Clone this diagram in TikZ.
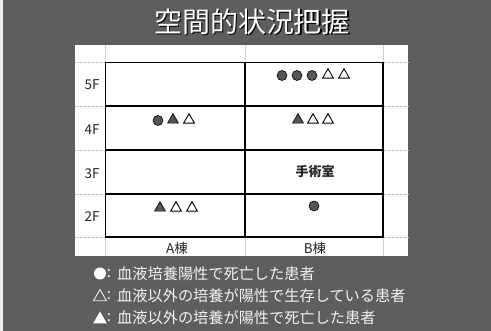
\documentclass[tikz,border=0pt]{standalone}
\usepackage{fontspec}
\setmainfont{Noto Sans CJK JP}
\usetikzlibrary{shapes.geometric}
\definecolor{bg}{HTML}{5E5E5E}
\definecolor{symgray}{HTML}{555555}
\tikzset{
  gridline/.style={draw=gray!55, densely dotted, line width=0.6pt},
  frame/.style={draw=black, line width=1.1pt},
  lbl/.style={font=\fontsize{13.5}{13.5}\selectfont, text=black!85, inner sep=0},
  dotsym/.style={circle, draw=black, fill=symgray, minimum size=10pt, inner sep=0, line width=0.6pt},
  trifill/.style={regular polygon, regular polygon sides=3, draw=black, fill=symgray, minimum size=12.5pt, inner sep=0, line width=0.7pt},
  triopen/.style={regular polygon, regular polygon sides=3, draw=black, fill=white, minimum size=12.5pt, inner sep=0, line width=0.9pt},
  ldot/.style={circle, fill=white, minimum size=12pt, inner sep=0},
  ltrifill/.style={regular polygon, regular polygon sides=3, fill=white, minimum size=16pt, inner sep=0},
  ltriopen/.style={regular polygon, regular polygon sides=3, draw=white!85!gray, line width=0.9pt, minimum size=15pt, inner sep=0},
  legtext/.style={font=\fontsize{15.2}{15.2}\selectfont, text=white!90!gray, anchor=west, inner sep=0},
  legcolon/.style={font=\fontsize{15.2}{15.2}\selectfont, text=white!90!gray, inner sep=0},
}
\begin{document}
\begin{tikzpicture}[x=1pt,y=-1pt]
\useasboundingbox (0,0) rectangle (491,331);
\fill[bg] (0,0) rectangle (491,331);
\fill[white!85!gray] (0,0) rectangle (3,331);
% title
\node[font=\fontsize{28}{28}\selectfont, text=black] (titlesh) at (253.2,23.2) {空間的状況把握};
\node[font=\fontsize{28}{28}\selectfont, text=white] (title) at (252,22) {空間的状況把握};
% white table area
\fill[white] (75,45) rectangle (408,256);
% dotted grid
\foreach \x in {105.7,245,383} \draw[gridline] (\x,45) -- (\x,256);
\foreach \y in {62.7,106,150,194,237} \draw[gridline] (75,\y) -- (408,\y);
% solid frame
\draw[frame] (105.7,62.7) rectangle (383,237);
\foreach \y in {106,150,194} \draw[frame] (105.7,\y) -- (383,\y);
\draw[frame] (245,62.7) -- (245,237);
% floor labels
\node[lbl] (f5) at (92,85) {5F};
\node[lbl] (f4) at (92,130) {4F};
\node[lbl] (f3) at (92,174) {3F};
\node[lbl] (f2) at (92,217) {2F};
% building labels
\node[lbl] (ba) at (177,248) {A棟};
\node[lbl] (bb) at (315,248) {B棟};
% A 4F
\node[dotsym] (a4a) at (158,120.5) {};
\node[trifill] (a4b) at (173,120) {};
\node[triopen] (a4c) at (189,120) {};
% A 2F
\node[trifill] (a2a) at (160,208) {};
\node[triopen] (a2b) at (176,208) {};
\node[triopen] (a2c) at (192,208) {};
% B 5F
\node[dotsym] (b5a) at (282,75.5) {};
\node[dotsym] (b5b) at (297,75.5) {};
\node[dotsym] (b5c) at (312,75.5) {};
\node[triopen] (b5d) at (328,75) {};
\node[triopen] (b5e) at (344,75) {};
% B 4F
\node[trifill] (b4a) at (298,120) {};
\node[triopen] (b4b) at (313,120) {};
\node[triopen] (b4c) at (328,120) {};
% B 3F
\node[lbl, font=\fontsize{13}{13}\selectfont\bfseries] (op) at (315,172) {手術室};
% B 2F
\node[dotsym] (b2a) at (314,206) {};
% legend
\node[ldot] (l1) at (100,273.5) {};
\node[legcolon] (c1) at (109,274) {:};
\node[legtext] (t1) at (117,274) {血液培養陽性で死亡した患者};
\node[ltriopen] (l2) at (100,297) {};
\node[legcolon] (c2) at (109,296) {:};
\node[legtext] (t2) at (117,296) {血液以外の培養が陽性で生存している患者};
\node[ltrifill] (l3) at (100,319.5) {};
\node[legcolon] (c3) at (109,318) {:};
\node[legtext] (t3) at (117,318) {血液以外の培養が陽性で死亡した患者};
\end{tikzpicture}
\end{document}
